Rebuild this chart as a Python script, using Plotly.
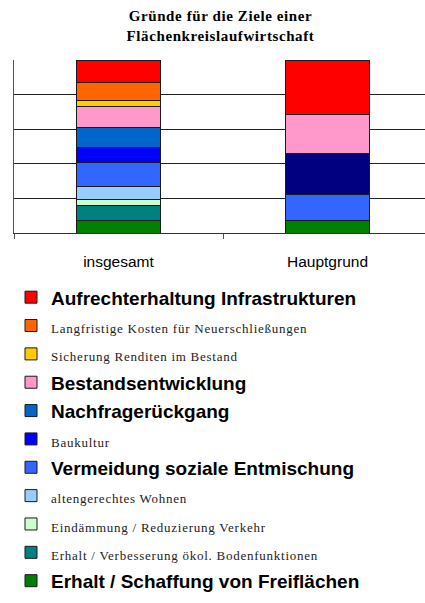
import plotly.graph_objects as go

# ---- data (bottom -> top of stack) ----
categories = ["insgesamt", "Hauptgrund"]

series_names = [
    "Erhalt / Schaffung von Freiflächen",
    "Erhalt / Verbesserung ökol. Bodenfunktionen",
    "Eindämmung / Reduzierung Verkehr",
    "altengerechtes Wohnen",
    "Vermeidung soziale Entmischung",
    "Baukultur",
    "Nachfragerückgang",
    "Bestandsentwicklung",
    "Sicherung Renditen im Bestand",
    "Langfristige Kosten für Neuerschließungen",
    "Aufrechterhaltung Infrastrukturen",
]
is_main_reason = [True, False, False, False, True, False, True, True, False, False, True]

insgesamt_values = [7.5, 8.65, 3.27, 7.31, 14.04, 8.65, 11.73, 11.92, 3.46, 10.58, 12.88]
hauptgrund_values = [7.5, None, None, None, 15.0, None, 23.7, 22.5, None, None, 31.3]

colors = ["#008000", "#008080", "#CCFFCC", "#99CCFF", "#3366FF", "#0000FF",
          "#0066CC", "#FF99CC", "#FFCC00", "#FF6600", "#FF0000"]
hauptgrund_colors = ["#008000", "#008080", "#CCFFCC", "#99CCFF", "#3366FF", "#0000FF",
                     "#000080", "#FF99CC", "#FFCC00", "#FF6600", "#FF0000"]


def legend_label(name, main):
    if main:
        return '<span style="font-size:19px"><b>' + name + "</b></span>"
    return ('<span style="font-family:\'Liberation Serif\';font-size:13px;'
            'letter-spacing:0.75px;color:#222222">' + name + "</span>")


fig = go.Figure()
for i, name in enumerate(series_names):
    fig.add_trace(go.Bar(
        x=categories,
        y=[insgesamt_values[i], hauptgrund_values[i]],
        name=legend_label(name, is_main_reason[i]),
        marker=dict(color=[colors[i], hauptgrund_colors[i]],
                    line=dict(color="#1a1a1a", width=1)),
        width=0.4,
        hoverinfo="skip",
    ))

title_text = ('<span style="letter-spacing:0.6px">Gründe für die Ziele einer<br>'
              'Flächenkreislaufwirtschaft</span>')

fig.update_layout(
    barmode="stack",
    width=425, height=603,
    margin=dict(l=14, r=0, t=60, b=370, autoexpand=False),
    paper_bgcolor="white", plot_bgcolor="white",
    title=dict(text=title_text, x=220.5 / 425, xanchor="center",
               y=1 - 21 / 603, yanchor="top", yref="container",
               font=dict(family="Liberation Serif", size=15, color="black", weight="bold")),
    showlegend=True,
    legend=dict(traceorder="reversed", orientation="v",
                xref="container", yref="container",
                x=11 / 425, xanchor="left",
                y=1 - 278 / 603, yanchor="top",
                maxheight=400,
                font=dict(family="Liberation Sans", size=19.5, color="black"),
                bgcolor="rgba(0,0,0,0)", borderwidth=0),
    xaxis=dict(type="category", range=[-0.5, 1.4665],
               tickson="boundaries", ticks="outside", ticklen=5,
               tickcolor="#555555", tickwidth=1,
               showline=True, linecolor="#333333", linewidth=1,
               showgrid=False, ticklabelstandoff=14,
               tickfont=dict(family="Liberation Sans", size=15.5, color="black")),
    yaxis=dict(range=[0, 100], tickvals=[0, 20, 40, 60, 80, 100],
               showticklabels=False, ticks="",
               showgrid=True, gridcolor="#222222", gridwidth=1,
               showline=True, linecolor="#555555", linewidth=1,
               zeroline=False),
    bargap=0.6,
)

fig.write_html("out.html",
               config={"displayModeBar": False},
               post_script="document.body.style.margin='0';document.body.style.overflow='hidden';")
